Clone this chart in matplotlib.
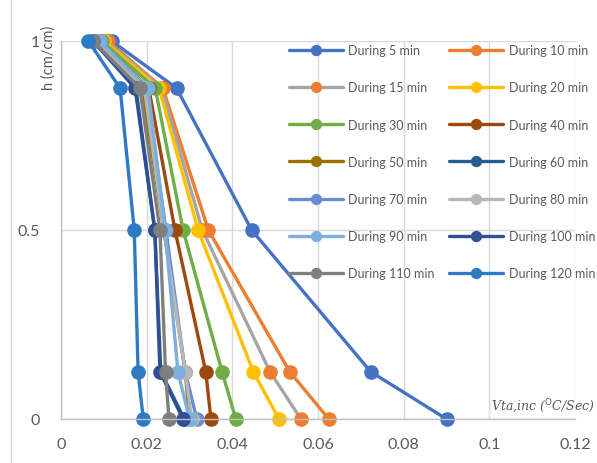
import matplotlib.pyplot as plt
from matplotlib.lines import Line2D

# heights (cm/cm) where the temperature rate was taken
h = [0, 0.125, 0.5, 0.875, 1]

labels = ['During 5 min', 'During 10 min', 'During 15 min', 'During 20 min',
          'During 30 min', 'During 40 min', 'During 50 min', 'During 60 min',
          'During 70 min', 'During 80 min', 'During 90 min', 'During 100 min',
          'During 110 min', 'During 120 min']

v5 = [0.0900, 0.0723, 0.0445, 0.0270, 0.0118]
v10 = [0.0625, 0.0534, 0.0344, 0.0238, 0.0110]
v15 = [0.0560, 0.0488, 0.0330, 0.0235, 0.0105]
v20 = [0.0509, 0.0449, 0.0320, 0.0229, 0.0100]
v30 = [0.0408, 0.0376, 0.0285, 0.0220, 0.0095]
v40 = [0.0350, 0.0338, 0.0266, 0.0205, 0.0090]
v50 = [0.0300, 0.0290, 0.0240, 0.0190, 0.0085]
v60 = [0.0288, 0.0233, 0.0219, 0.0175, 0.0075]
v70 = [0.0317, 0.0290, 0.0245, 0.0200, 0.0090]
v80 = [0.0305, 0.0290, 0.0240, 0.0195, 0.0085]
v90 = [0.0300, 0.0273, 0.0243, 0.0203, 0.0090]
v100 = [0.0285, 0.0231, 0.0219, 0.0173, 0.0075]
v110 = [0.0252, 0.0244, 0.0231, 0.0184, 0.0075]
v120 = [0.0192, 0.0180, 0.0171, 0.0138, 0.0064]
series = [v5, v10, v15, v20, v30, v40, v50, v60, v70, v80, v90, v100, v110, v120]

line_colors = ['#4472C4', '#ED7D31', '#A5A5A5', '#FFC000', '#70AD47', '#9E480E',
               '#997300', '#255E91', '#698ED0', '#B7B7B7', '#7CAFDD', '#2F4F96',
               '#7F7F7F', '#2E7BC4']
marker_colors = list(line_colors)
marker_colors[2] = '#ED7D31'  # 15 min has orange markers in the original

plt.rcParams['font.family'] = ['Lato', 'DejaVu Sans']
txt = '#595959'

fig = plt.figure(figsize=(5.97, 4.64), dpi=100)
ax = fig.add_axes([61 / 597, 44 / 464, 514 / 597, 378 / 464])

handles = []
for vals, lab, lc, mc in zip(series, labels, line_colors, marker_colors):
    ln, = ax.plot(vals, h, color=lc, lw=2.4, marker='o', ms=9.5,
                  mfc=mc, mec=mc, label=lab, solid_capstyle='round')
    handles.append(ln)

ax.set_xlim(0, 0.12)
ax.set_ylim(0, 1)
ax.set_xticks([0, 0.02, 0.04, 0.06, 0.08, 0.1, 0.12])
ax.set_xticklabels(['0', '0.02', '0.04', '0.06', '0.08', '0.1', '0.12'])
ax.set_yticks([0, 0.5, 1])
ax.set_yticklabels(['0', '0.5', '1'])
ax.tick_params(axis='both', length=0, labelsize=11.5, colors=txt)
ax.tick_params(axis='x', pad=13)
ax.tick_params(axis='y', pad=15)
ax.grid(True, color='#D9D9D9', lw=1)
ax.set_axisbelow(True)
for s in ['top', 'right']:
    ax.spines[s].set_visible(False)
for s in ['left', 'bottom']:
    ax.spines[s].set_color('#BFBFBF')
    ax.spines[s].set_linewidth(1)
for ln in handles:
    ln.set_clip_on(False)

fig.text(49 / 597, 1 - 58 / 464, 'h (cm/cm)', rotation=90, ha='center', va='center',
         fontsize=10.5, color=txt)
fig.text(595 / 597, 1 - 407 / 464, r'Vta,inc ($^{\mathrm{O}}$C/Sec)', ha='right',
         va='center', fontsize=9, color=txt, family='DejaVu Serif', style='italic')

# legend filled row by row like the original (two columns)
order = list(range(0, 14, 2)) + list(range(1, 14, 2))
leg = ax.legend([handles[i] for i in order], [labels[i] for i in order],
                ncol=2, loc='upper left', bbox_to_anchor=(289 / 597, 1 - 45 / 464),
                bbox_transform=fig.transFigure, frameon=False, fontsize=9,
                handlelength=4.3, handletextpad=0.45, columnspacing=1.15,
                labelspacing=2.02, borderaxespad=0, borderpad=0, markerscale=0.75)
for t in leg.get_texts():
    t.set_color(txt)

fig.add_artist(Line2D([11 / 597, 11 / 597], [0, 1], color='#D9D9D9', lw=1))

fig.savefig('out.png', dpi=100)
